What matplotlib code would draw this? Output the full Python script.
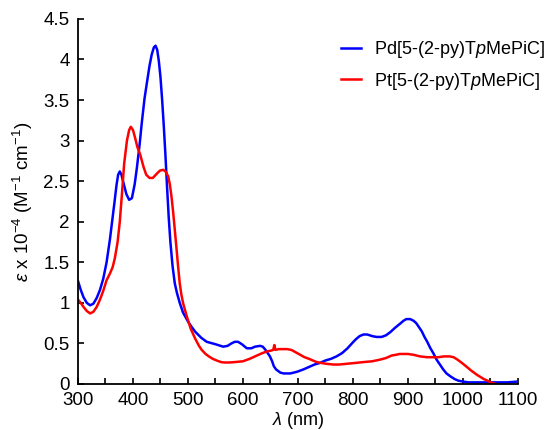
import matplotlib
matplotlib.use("Agg")
import matplotlib.pyplot as plt
from matplotlib.ticker import MultipleLocator, FuncFormatter

plt.rcParams['font.family'] = ['Liberation Sans', 'DejaVu Sans']
plt.rcParams['mathtext.fontset'] = 'custom'
plt.rcParams['mathtext.rm'] = 'Liberation Sans'
plt.rcParams['mathtext.it'] = 'Liberation Sans:italic'

# Pd[5-(2-py)TpMePiC]
pd_wl = [300, 305, 310, 316, 322, 328, 334, 340, 346, 352, 358, 362, 366, 370, 373,
         376, 379, 383, 388, 393, 398, 403, 407, 412, 416, 421, 425, 430, 434, 438,
         441, 444, 447, 450, 453, 456, 459, 462, 465, 468, 472, 476, 480, 485, 491,
         500, 507, 513, 524, 534, 550, 564, 572, 579, 585, 591, 598, 607, 615, 622,
         631, 636, 641, 646, 649, 653, 656, 660, 664, 668, 674, 679, 686, 692, 698,
         710, 720, 730, 740, 750, 760, 770, 780, 790, 798, 805, 812, 819, 826, 835,
         843, 852, 860, 868, 876, 885, 892, 897, 904, 910, 915, 920, 925, 930, 935,
         940, 946, 952, 958, 964, 970, 978, 985, 992, 1000, 1010, 1020, 1050, 1080, 1100]
pd_eps = [1.27, 1.16, 1.07, 1.00, 0.97, 0.99, 1.06, 1.16, 1.30, 1.50, 1.78, 2.00, 2.22, 2.45, 2.58,
          2.62, 2.58, 2.47, 2.34, 2.27, 2.29, 2.46, 2.66, 2.95, 3.22, 3.52, 3.70, 3.92, 4.06, 4.15,
          4.17, 4.12, 3.98, 3.78, 3.50, 3.18, 2.82, 2.42, 2.05, 1.75, 1.45, 1.24, 1.12, 1.00, 0.88,
          0.77, 0.70, 0.645, 0.57, 0.52, 0.49, 0.46, 0.47, 0.50, 0.52, 0.52, 0.49, 0.44, 0.44, 0.46,
          0.47, 0.46, 0.42, 0.37, 0.34, 0.28, 0.22, 0.18, 0.16, 0.14, 0.13, 0.13, 0.13, 0.14, 0.15,
          0.18, 0.21, 0.24, 0.26, 0.29, 0.31, 0.34, 0.38, 0.44, 0.50, 0.55, 0.59, 0.61, 0.61, 0.59,
          0.58, 0.58, 0.60, 0.64, 0.69, 0.74, 0.78, 0.80, 0.80, 0.78, 0.75, 0.70, 0.65, 0.58, 0.52,
          0.45, 0.38, 0.30, 0.24, 0.18, 0.13, 0.09, 0.06, 0.04, 0.03, 0.02, 0.02, 0.02, 0.02, 0.03]

# Pt[5-(2-py)TpMePiC]
pt_wl = [300, 305, 310, 316, 322, 328, 334, 340, 346, 352, 358, 363, 367, 372, 376,
         380, 384, 389, 393, 396, 400, 404, 408, 413, 419, 424, 430, 436, 443, 449,
         455, 459, 464, 467, 470, 473, 476, 479, 482, 485, 488, 491, 495, 498, 505,
         513, 520, 525, 532, 538, 545, 552, 560, 566, 575, 585, 600, 612, 625, 635,
         643, 650, 655, 657, 659, 665, 673, 680, 688, 696, 704, 712, 720, 727, 734,
         742, 750, 764, 775, 790, 805, 819, 835, 849, 860, 870, 878, 885, 892, 900,
         910, 922, 935, 945, 955, 965, 976, 983, 990, 998, 1007, 1014, 1020, 1026, 1031,
         1038, 1045, 1050, 1055, 1060]
pt_eps = [1.04, 1.00, 0.95, 0.90, 0.87, 0.89, 0.95, 1.04, 1.15, 1.28, 1.36, 1.44, 1.55, 1.75, 2.00,
          2.35, 2.72, 3.00, 3.13, 3.17, 3.13, 3.03, 2.92, 2.83, 2.68, 2.58, 2.54, 2.54, 2.59, 2.63,
          2.64, 2.62, 2.56, 2.46, 2.31, 2.12, 1.90, 1.68, 1.45, 1.24, 1.10, 1.00, 0.90, 0.83, 0.68,
          0.56, 0.47, 0.42, 0.37, 0.34, 0.31, 0.29, 0.27, 0.265, 0.265, 0.27, 0.28, 0.31, 0.35, 0.38,
          0.40, 0.41, 0.42, 0.48, 0.42, 0.43, 0.43, 0.43, 0.42, 0.39, 0.36, 0.33, 0.31, 0.29, 0.27,
          0.26, 0.25, 0.24, 0.24, 0.25, 0.26, 0.27, 0.28, 0.30, 0.32, 0.35, 0.36, 0.37, 0.37, 0.37,
          0.36, 0.34, 0.33, 0.33, 0.33, 0.34, 0.34, 0.33, 0.30, 0.26, 0.21, 0.17, 0.14, 0.11, 0.09,
          0.06, 0.04, 0.02, 0.01, 0.0]

fig = plt.figure(figsize=(5.5, 4.3), dpi=100)
ax = fig.add_axes([0.1418, 0.107, 0.80, 0.849])

ax.plot(pd_wl, pd_eps, color='#0000ff', lw=1.8, label=r'Pd[5-(2-py)T$\mathit{p}$MePiC]')
ax.plot(pt_wl, pt_eps, color='#ff0000', lw=1.8, label=r'Pt[5-(2-py)T$\mathit{p}$MePiC]')

ax.set_xlim(300, 1100)
ax.set_ylim(0, 4.5)
ax.xaxis.set_major_locator(MultipleLocator(100))
ax.xaxis.set_minor_locator(MultipleLocator(50))
ax.yaxis.set_major_locator(MultipleLocator(0.5))
ax.yaxis.set_major_formatter(FuncFormatter(lambda v, p: f'{v:g}'))

for s in ['top', 'right']:
    ax.spines[s].set_visible(False)
for s in ['left', 'bottom']:
    ax.spines[s].set_linewidth(1.3)

ax.tick_params(axis='both', which='both', direction='in', length=4.5, width=1.2, labelsize=13.5)
ax.tick_params(axis='x', pad=6)
ax.tick_params(axis='y', pad=6)

# x label placed as figure text so it sits just under the tick labels
fig.text(0.5418, 0.021, r'$\mathit{λ}$ (nm)', fontsize=13, ha='center', va='center')
ax.set_ylabel(r'$\mathit{ε}$ x 10$^{-4}$ (M$^{-1}$ cm$^{-1}$)', fontsize=13.5, labelpad=6)

ax.legend(loc='upper right', bbox_to_anchor=(1.097, 0.99), frameon=False, fontsize=13,
          handlelength=1.1, handletextpad=0.7, labelspacing=0.6)

fig.savefig('out.png', dpi=100)
